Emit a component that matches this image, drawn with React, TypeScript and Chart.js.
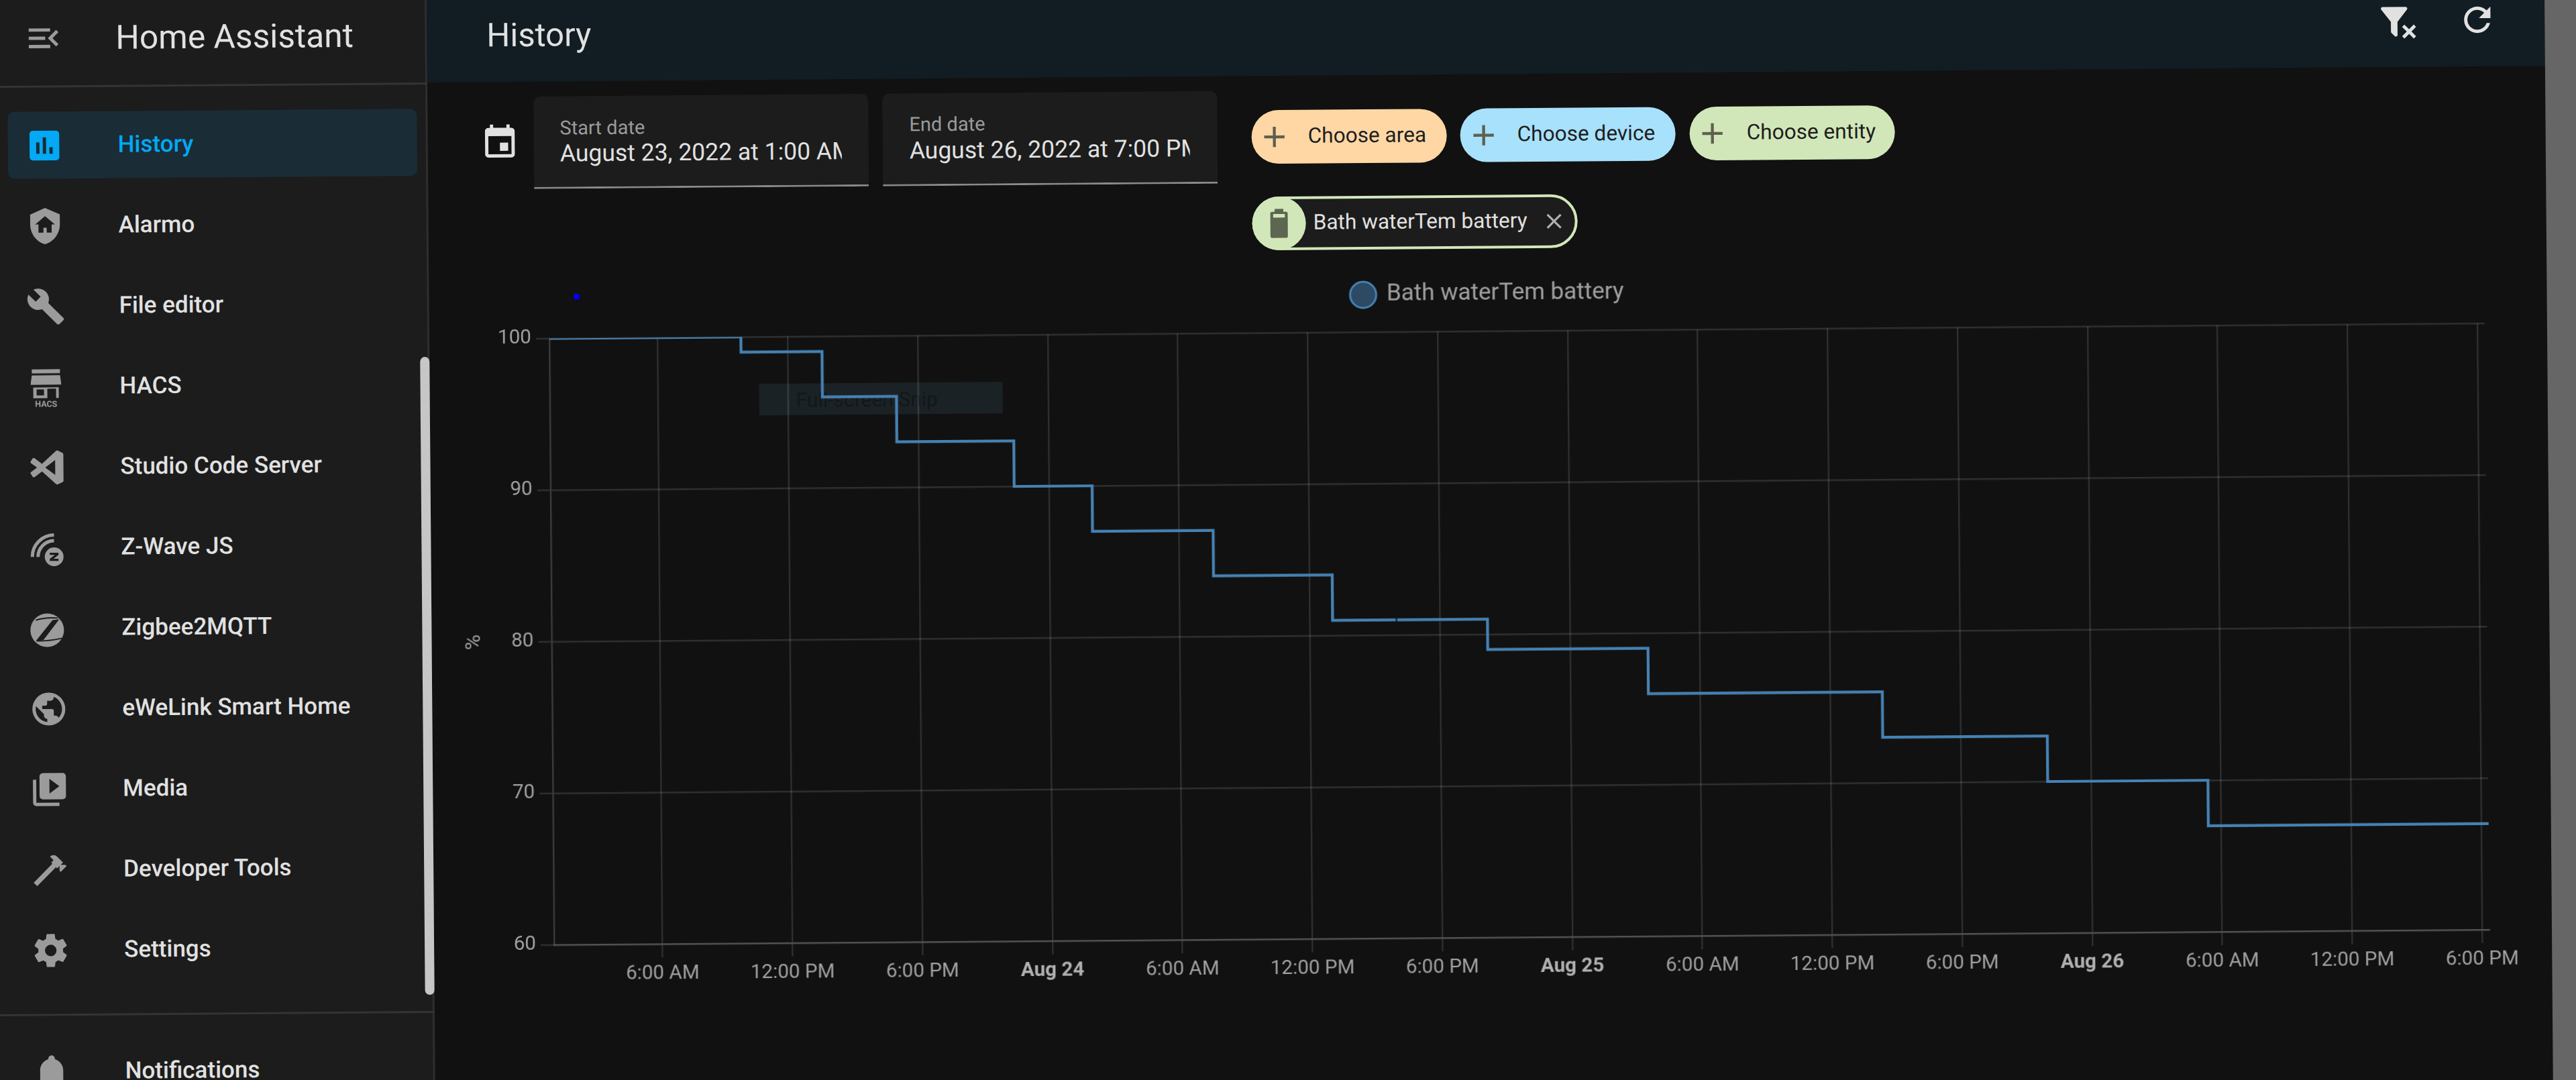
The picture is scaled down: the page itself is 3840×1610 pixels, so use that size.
import React, { useEffect, useRef } from "react";
import { Chart, registerables } from "chart.js";

Chart.register(...registerables);

const stepHours = [1, 9.84, 13.58, 17.0, 22.4, 26.0, 31.57, 37.05, 40.0, 44.2, 51.6, 62.4, 68.1, 70.0, 77.4, 90.34];
const batteryPercent = [100, 99, 96, 93, 90, 87, 84, 81, 81, 79, 76, 73, 73, 70, 67, 67];
const breakHours = [40.0];
const dayLabels = ["Aug 23", "Aug 24", "Aug 25", "Aug 26"];
const hourLabels: Record<number, string> = { 6: "6:00 AM", 12: "12:00 PM", 18: "6:00 PM" };
const seriesName = "Bath waterTem battery";
const unit = "%";

const mdi = {
  menu: "M21,15.61L19.59,17L14.58,12L19.59,7L21,8.39L17.44,12L21,15.61M3,6H16V8H3V6M3,13V11H13V13H3M3,18V16H16V18H3Z",
  chart: "M9 17H7V10H9V17M13 17H11V7H13V17M17 17H15V13H17V17M19 3H5C3.9 3 3 3.9 3 5V19C3 20.1 3.9 21 5 21H19C20.1 21 21 20.1 21 19V5C21 3.9 20.1 3 19 3Z",
  shield: "M11 13H13V16H16V11H18L12 6L6 11H8V16H11V13M12 1L21 5V11C21 16.55 17.16 21.74 12 23C6.84 21.74 3 16.55 3 11V5L12 1Z",
  wrench: "M22.7,19L13.6,9.9C14.5,7.6 14,4.9 12.1,3C10.1,1 7.1,0.6 4.7,1.7L9,6L6,9L1.6,4.7C0.4,7.1 0.9,10.1 2.9,12.1C4.8,14 7.5,14.5 9.8,13.6L18.9,22.7C19.3,23.1 19.9,23.1 20.3,22.7L22.6,20.4C23.1,20 23.1,19.3 22.7,19Z",
  cog: "M12,15.5A3.5,3.5 0 0,1 8.5,12A3.5,3.5 0 0,1 12,8.5A3.5,3.5 0 0,1 15.5,12A3.5,3.5 0 0,1 12,15.5M19.43,12.97C19.47,12.65 19.5,12.33 19.5,12C19.5,11.67 19.47,11.34 19.43,11L21.54,9.37C21.73,9.22 21.78,8.95 21.66,8.73L19.66,5.27C19.54,5.05 19.27,4.96 19.05,5.05L16.56,6.05C16.04,5.66 15.5,5.32 14.87,5.07L14.5,2.42C14.46,2.18 14.25,2 14,2H10C9.75,2 9.54,2.18 9.5,2.42L9.13,5.07C8.5,5.32 7.96,5.66 7.44,6.05L4.95,5.05C4.73,4.96 4.46,5.05 4.34,5.27L2.34,8.73C2.21,8.95 2.27,9.22 2.46,9.37L4.57,11C4.53,11.34 4.5,11.67 4.5,12C4.5,12.33 4.53,12.65 4.57,12.97L2.46,14.63C2.27,14.78 2.21,15.05 2.34,15.27L4.34,18.73C4.46,18.95 4.73,19.03 4.95,18.95L7.44,17.94C7.96,18.34 8.5,18.68 9.13,18.93L9.5,21.58C9.54,21.82 9.75,22 10,22H14C14.25,22 14.46,21.82 14.5,21.58L14.87,18.93C15.5,18.67 16.04,18.34 16.56,17.94L19.05,18.95C19.27,19.03 19.54,18.95 19.66,18.73L21.66,15.27C21.78,15.05 21.73,14.78 21.54,14.63L19.43,12.97Z",
  calendar: "M19,19H5V8H19M16,1V3H8V1H6V3H5C3.89,3 3,3.89 3,5V19A2,2 0 0,0 5,21H19A2,2 0 0,0 21,19V5C21,3.89 20.1,3 19,3H18V1M17,12H12V17H17V12Z",
  refresh: "M17.65,6.35C16.2,4.9 14.21,4 12,4A8,8 0 0,0 4,12A8,8 0 0,0 12,20C15.73,20 18.84,17.45 19.73,14H17.65C16.83,16.33 14.61,18 12,18A6,6 0 0,1 6,12A6,6 0 0,1 12,6C13.66,6 15.14,6.69 16.22,7.78L13,11H20V4L17.65,6.35Z",
  filter: "M14.76,20.83L17.6,18L14.76,15.17L16.17,13.76L19,16.57L21.83,13.76L23.24,15.17L20.43,18L23.24,20.83L21.83,22.24L19,19.4L16.17,22.24L14.76,20.83M12,12V19.88C12.04,20.18 11.94,20.5 11.71,20.71C11.32,21.1 10.69,21.1 10.3,20.71L8.29,18.7C8.06,18.47 7.96,18.16 8,17.87V12H7.97L2.21,4.62C1.87,4.19 1.95,3.56 2.38,3.22C2.57,3.08 2.78,3 3,3H17C17.22,3 17.43,3.08 17.62,3.22C18.05,3.56 18.13,4.19 17.79,4.62L12.03,12H12Z",
  plus: "M19,13H13V19H11V13H5V11H11V5H13V11H19V13Z",
  close: "M19,6.41L17.59,5L12,10.59L6.41,5L5,6.41L10.59,12L5,17.59L6.41,19L12,13.41L17.59,19L19,17.59L13.41,12L19,6.41Z",
  battery: "M16.67,4H15V2H9V4H7.33A1.33,1.33 0 0,0 6,5.33V20.67C6,21.4 6.6,22 7.33,22H16.67A1.33,1.33 0 0,0 18,20.67V5.33C18,4.6 17.4,4 16.67,4M16,8H8V5.5H16V8Z",
  code: "M17 16.5V7.5L11 12M2.2 9.2C2 9 2 8.6 2.1 8.4L3.3 6.5C3.6 6.1 4.1 6 4.5 6.3L9 9.7L17.4 2.1C17.8 1.7 18.4 1.6 18.9 1.9L21.4 3.1C21.8 3.3 22 3.7 22 4.1V19.9C22 20.3 21.8 20.7 21.4 20.9L18.6 22.2C18.2 22.4 17.7 22.3 17.4 22L9 14.3L4.5 17.7C4.1 18 3.6 17.9 3.3 17.5L2.1 15.6C2 15.4 2 15 2.2 14.8L6 12L2.2 9.2Z",
  media: "M4,6H2V20A2,2 0 0,0 4,22H18V20H4V6M20,2H8A2,2 0 0,0 6,4V16A2,2 0 0,0 8,18H20A2,2 0 0,0 22,16V4A2,2 0 0,0 20,2M12,14.5V5.5L18,10L12,14.5Z",
  earth: "M17.9,17.39C17.64,16.59 16.89,16 16,16H15V13A1,1 0 0,0 14,12H8V10H10A1,1 0 0,0 11,9V7H13A2,2 0 0,0 15,5V4.59C17.93,5.77 20,8.64 20,12C20,14.08 19.2,15.97 17.9,17.39M11,19.93C7.05,19.44 4,16.08 4,12C4,11.38 4.08,10.78 4.21,10.21L9,15V16A2,2 0 0,0 11,18M12,2A10,10 0 0,0 2,12A10,10 0 0,0 12,22A10,10 0 0,0 22,12A10,10 0 0,0 12,2Z",
  hammer: "M2 19.63L13.43 8.2L12.72 7.5L14.14 6.07L12 3.89C13.2 2.7 15.09 2.7 16.27 3.89L19.87 7.5L18.45 8.91H21.29L22 9.62L18.45 13.21L17.74 12.5V9.62L16.27 11.04L15.56 10.33L4.13 21.76L2 19.63Z",
  bell: "M21,19V20H3V19L5,17V11C5,7.9 7.03,5.17 10,4.29C10,4.19 10,4.1 10,4A2,2 0 0,1 12,2A2,2 0 0,1 14,4C14,4.1 14,4.19 14,4.29C16.97,5.17 19,7.9 19,11V17L21,19M14,21A2,2 0 0,1 12,23A2,2 0 0,1 10,21",
};

const navItems = [
  { label: "Alarmo", y: 337, icon: "shield" },
  { label: "File editor", y: 457, icon: "wrench" },
  { label: "HACS", y: 577, icon: "hacs" },
  { label: "Studio Code Server", y: 697, icon: "code" },
  { label: "Z-Wave JS", y: 817, icon: "zwave" },
  { label: "Zigbee2MQTT", y: 937, icon: "zigbee" },
  { label: "eWeLink Smart Home", y: 1057, icon: "earth" },
  { label: "Media", y: 1177, icon: "media" },
  { label: "Developer Tools", y: 1297, icon: "hammer" },
  { label: "Settings", y: 1417, icon: "cog" },
  { label: "Notifications", y: 1598, icon: "bell" },
];

const FONT = "Roboto, sans-serif";
const GRAY_ICON = "#9b9b9b";

function Icon({ d, x, y, size = 59, color = GRAY_ICON }: { d: string; x: number; y: number; size?: number; color?: string }) {
  return (
    <svg viewBox="0 0 24 24" width={size} height={size} style={{ position: "absolute", left: x - size / 2, top: y - size / 2 }}>
      <path d={d} fill={color} />
    </svg>
  );
}

function NavIcon({ name, y }: { name: string; y: number }) {
  if (name === "hacs") {
    return (
      <svg viewBox="0 0 46 58" width={46} height={58} style={{ position: "absolute", left: 41, top: y - 27 }}>
        <rect x="2" y="1" width="42" height="6" fill={GRAY_ICON} />
        <path d="M2 10H44L46 24H0Z" fill={GRAY_ICON} />
        <path d="M4 28H42V44H38V30H25V44H4ZM9 31V40H20V31Z" fill={GRAY_ICON} fillRule="evenodd" />
        <text x="23" y="57" textAnchor="middle" fontFamily={FONT} fontWeight="700" fontSize="12.5" fill={GRAY_ICON}>HACS</text>
      </svg>
    );
  }
  if (name === "zwave") {
    return (
      <svg viewBox="0 0 60 60" width={60} height={60} style={{ position: "absolute", left: 34, top: y - 30 }}>
        <path d="M7.7 43.6A32.5 32.5 0 0 1 40.2 11.1M16.2 43.6A24 24 0 0 1 40.2 19.6" stroke={GRAY_ICON} strokeWidth="5" fill="none" />
        <circle cx="40.2" cy="43.6" r="14" fill={GRAY_ICON} />
        <path d="M33.7 37.6H46.7V40.8L39.2 46.6H46.7V49.8H33.7V46.6L41.2 40.8H33.7Z" fill="#1c1c1c" />
      </svg>
    );
  }
  if (name === "zigbee") {
    return (
      <svg viewBox="0 0 60 60" width={60} height={60} style={{ position: "absolute", left: 33.3, top: y + 2.6 - 30 }}>
        <circle cx="30" cy="30" r="25" fill={GRAY_ICON} />
        <path d="M38 15L48 14L24 45L13 46Z" fill="#1c1c1c" />
        <path d="M13 15C22 12 34 11 46 12M14 46C26 46 40 45 52 42" stroke="#1c1c1c" strokeWidth="1.8" fill="none" />
      </svg>
    );
  }
  return <Icon d={(mdi as any)[name]} x={64} y={y} />;
}

function Label({ text, x, y, size, color, weight = 400, clip }: { text: string; x: number; y: number; size: number; color: string; weight?: number; clip?: number }) {
  return (
    <div
      style={{
        position: "absolute",
        left: x,
        top: y - size * 0.75,
        height: size * 1.5,
        lineHeight: `${size * 1.5}px`,
        width: clip,
        overflow: clip ? "hidden" : "visible",
        whiteSpace: "pre",
        fontFamily: FONT,
        fontSize: size,
        fontWeight: weight,
        color,
      }}
    >
      {text}
    </div>
  );
}

function Box({ x, y, w, h, bg, radius, extra }: { x: number; y: number; w: number; h: number; bg: string; radius?: number | string; extra?: React.CSSProperties }) {
  return <div style={{ position: "absolute", left: x, top: y, width: w, height: h, background: bg, borderRadius: radius, boxSizing: "border-box", ...extra }} />;
}

function Chip({ x, w, bg, text, plusX, textX }: { x: number; w: number; bg: string; text: string; plusX: number; textX: number }) {
  return (
    <>
      <Box x={x} y={179} w={w} h={80} bg={bg} radius={40} />
      <Icon d={mdi.plus} x={plusX} y={219} size={52} color="#5f5f50" />
      <Label text={text} x={textX} y={218} size={31.6} color="#1e1e1e" />
    </>
  );
}

const legendSpacer = {
  id: "legendSpacer",
  beforeInit(chart: any) {
    const fit = chart.legend.fit;
    chart.legend.fit = function () {
      fit.call(this);
      this.height = 83;
    };
  },
};

function BatteryChart() {
  const ref = useRef<HTMLCanvasElement | null>(null);
  useEffect(() => {
    if (!ref.current) return;
    const chart = new Chart(ref.current, {
      type: "line",
      plugins: [legendSpacer],
      data: {
        datasets: [
          {
            label: seriesName,
            data: stepHours.map((h, i) => ({ x: h, y: batteryPercent[i] })),
            stepped: "before",
            borderColor: "#4682b4",
            backgroundColor: "rgba(70,130,180,0.5)",
            borderWidth: 4.2,
            pointRadius: (c: any) => (breakHours.includes(c.raw?.x) ? 3 : 0),
            pointStyle: "line",
            pointRotation: 90,
            pointBackgroundColor: "rgba(70,130,180,0.5)",
            pointBorderColor: (c: any) => (breakHours.includes(c.raw?.x) ? "#111111" : "#4682b4"),
            pointBorderWidth: (c: any) => (breakHours.includes(c.raw?.x) ? 2 : 3),
            fill: false,
          } as any,
        ],
      },
      options: {
        responsive: false,
        animation: false,
        devicePixelRatio: 1,
        layout: { padding: { left: 64, right: 60, top: 0, bottom: 0 } },
        plugins: {
          tooltip: { enabled: false },
          legend: {
            position: "top",
            labels: {
              usePointStyle: true,
              pointStyle: "circle",
              boxHeight: 27.5,
              boxWidth: 39,
              padding: 10,
              color: "#a0a0a0",
              font: { family: FONT, size: 35 },
            },
          },
        },
        scales: {
          x: {
            type: "linear",
            min: stepHours[0],
            max: stepHours[stepHours.length - 1],
            afterFit: (s: any) => {
              s.height = 85;
            },
            grid: { color: "rgba(225,225,225,0.14)", lineWidth: 2.4, tickLength: 20 },
            border: { color: "rgba(225,225,225,0.2)", width: 2.4 },
            ticks: {
              stepSize: 6,
              includeBounds: false,
              autoSkip: false,
              maxRotation: 0,
              padding: 7,
              color: (c: any) => (c.tick && c.tick.value % 24 === 0 ? "#b0b0b0" : "#a0a0a0"),
              font: (c: any) => ({ family: FONT, size: 29.6, weight: c.tick && c.tick.value % 24 === 0 ? "bold" : "normal" }),
              callback: (v: any) => (v % 24 === 0 ? dayLabels[v / 24] : hourLabels[v % 24]),
            },
          },
          y: {
            min: 60,
            max: 100,
            afterFit: (s: any) => {
              s.width = 87;
            },
            title: { display: true, text: unit, color: "#a0a0a0", font: { family: FONT, size: 32 }, padding: { top: -47, bottom: 0 } },
            grid: { color: "rgba(225,225,225,0.14)", lineWidth: 2.4, tickLength: 20 },
            border: { color: "rgba(225,225,225,0.2)", width: 2.4 },
            ticks: { stepSize: 10, padding: 7, color: "#a0a0a0", font: { family: FONT, size: 29.6 } },
          },
        },
      } as any,
    });
    return () => chart.destroy();
  }, []);
  return <canvas ref={ref} width={3096} height={1072} style={{ position: "absolute", left: 664, top: 428, width: 3096, height: 1072 }} />;
}

export default function App() {
  return (
    <div style={{ position: "fixed", left: 0, top: 0, width: 3840, height: 1610, overflow: "hidden", background: "#111111" }}>
      <div style={{ position: "absolute", left: 0, top: 0, width: 3840, height: 1610, transformOrigin: "0 0", transform: "rotate(-0.45deg)" }}>
        {/* sidebar */}
        <Box x={-100} y={-100} w={736} h={1900} bg="#1c1c1c" extra={{ borderRight: "3px solid #2e2e2e" }} />
        <Box x={-100} y={128} w={736} h={3} bg="#343434" />
        <Box x={-100} y={1512} w={736} h={3} bg="#343434" />
        <Icon d={mdi.menu} x={64} y={57} />
        <Label text="Home Assistant" x={172} y={57} size={49.7} color="#e1e1e1" />
        <Box x={10} y={167} w={610} h={100} bg="#1a2c36" radius={10} />
        <Icon d={mdi.chart} x={64} y={217} color="#03a9f4" />
        <Label text="History" x={174} y={217} size={35} color="#03a9f4" weight={500} />
        {navItems.map((it) => (
          <React.Fragment key={it.label}>
            <NavIcon name={it.icon} y={it.y} />
            <Label text={it.label} x={174} y={it.y} size={35} color="#e1e1e1" weight={500} />
          </React.Fragment>
        ))}
        <Box x={622} y={537} w={14} h={951} bg="#c6c6c6" radius={7} />

        {/* header */}
        <Box x={636} y={-100} w={3160} h={228} bg="#111d23" />
        <Label text="History" x={725} y={59} size={49} color="#e1e1e1" />
        <Icon d={mdi.filter} x={3573} y={60} color="#e1e1e1" />
        <Icon d={mdi.refresh} x={3692} y={58} color="#e1e1e1" />
        <Box x={3793} y={-100} w={200} h={1900} bg="#666666" />

        {/* date pickers */}
        <Icon d={mdi.calendar} x={743} y={218} color="#e1e1e1" />
        <Box x={794} y={150} w={499} h={138} bg="#1c1c1c" radius="10px 10px 0 0" extra={{ borderBottom: "3px solid #8a8a8a" }} />
        <Label text="Start date" x={833} y={198} size={29} color="#9b9b9b" />
        <Label text="August 23, 2022 at 1:00 AM" x={833} y={236} size={35.5} color="#e1e1e1" clip={420} />
        <Box x={1314} y={150} w={499} h={138} bg="#1c1c1c" radius="10px 10px 0 0" extra={{ borderBottom: "3px solid #8a8a8a" }} />
        <Label text="End date" x={1354} y={197} size={29} color="#9b9b9b" />
        <Label text="August 26, 2022 at 7:00 PM" x={1354} y={236} size={35.5} color="#e1e1e1" clip={418} />

        {/* target chips */}
        <Chip x={1864} w={291} bg="#fed7a5" text="Choose area" plusX={1898} textX={1948} />
        <Chip x={2175} w={321} bg="#a8e1fb" text="Choose device" plusX={2210} textX={2260} />
        <Chip x={2517} w={306} bg="#d2e7b9" text="Choose entity" plusX={2551} textX={2602} />

        <Box x={1864} y={308} w={485} h={80} bg="#1c1c1c" radius={40} extra={{ border: "4px solid #d2e7b9" }} />
        <Box x={1864} y={308} w={80} h={80} bg="#d2e7b9" radius={40} />
        <Icon d={mdi.battery} x={1904} y={348} size={52} color="#5c6650" />
        <Label text={seriesName} x={1955} y={347} size={31.6} color="#e1e1e1" />
        <Icon d={mdi.close} x={2314} y={348} size={38} color="#b0b0b0" />

        {/* capture artefacts */}
        <Box x={852} y={445} w={8} h={8} bg="#0000ff" />
        <Box x={1127} y={581} w={363} h={47} bg="#1b2226" />
        <Label text="Full-screen Snip" x={1182} y={605} size={30} color="#12171a" />

        <BatteryChart />
      </div>
    </div>
  );
}
